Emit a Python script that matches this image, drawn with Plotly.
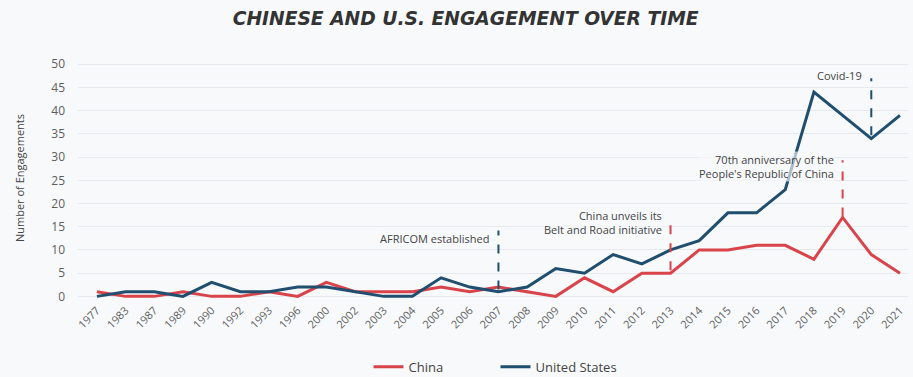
import plotly.graph_objects as go

years = ["1977", "1983", "1987", "1989", "1990", "1992", "1993", "1996", "2000", "2002",
         "2003", "2004", "2005", "2006", "2007", "2008", "2009", "2010", "2011", "2012",
         "2013", "2014", "2015", "2016", "2017", "2018", "2019", "2020", "2021"]
china = [1, 0, 0, 1, 0, 0, 1, 0, 3, 1, 1, 1, 2, 1, 2, 1, 0, 4, 1, 5, 5, 10, 10, 11, 11, 8, 17, 9, 5]
usa = [0, 1, 1, 0, 3, 1, 1, 2, 2, 1, 0, 0, 4, 2, 1, 2, 6, 5, 9, 7, 10, 12, 18, 18, 23, 44, 39, 34, 39]

events = [
    {"year": "2007", "y0": 1.5, "y1": 14.2, "label_y": 12.5, "text": "AFRICOM established", "color": "#1f4e6e"},
    {"year": "2013", "y0": 5.6, "y1": 16.8, "label_y": 16.0, "text": "China unveils its<br>Belt and Road initiative", "color": "#d9434a"},
    {"year": "2019", "y0": 17.2, "y1": 29.3, "label_y": 28.0, "text": "70th anniversary of the<br>People's Republic of China", "color": "#d9434a"},
    {"year": "2020", "y0": 34.7, "y1": 47.0, "label_y": 47.6, "text": "Covid-19", "color": "#1f4e6e"},
]

RED = "#d9434a"
NAVY = "#1f4e6e"
BG = "#f7f9fb"

fig = go.Figure()
fig.add_trace(go.Scatter(x=years, y=china, mode="lines", name="China",
                         line=dict(color=RED, width=3)))
fig.add_trace(go.Scatter(x=years, y=usa, mode="lines", name="United States",
                         line=dict(color=NAVY, width=3)))

shapes = []
annotations = []
for ev in events:
    xi = years.index(ev["year"])
    shapes.append(dict(type="line", xref="x", yref="y", x0=xi, x1=xi,
                       y0=ev["y0"], y1=ev["y1"],
                       line=dict(color=ev["color"], width=2, dash="dash")))
    annotations.append(dict(x=xi, y=ev["label_y"], xref="x", yref="y", text=ev["text"],
                            showarrow=False, xanchor="right", yanchor="middle", xshift=-8,
                            align="right", bgcolor="rgba(247,249,251,0.65)", borderpad=0,
                            font=dict(size=11, color="#444", family="Open Sans")))

fig.update_layout(
    width=913, height=377,
    paper_bgcolor=BG, plot_bgcolor=BG,
    margin=dict(l=78, r=5, t=55, b=76, autoexpand=False),
    shapes=shapes, annotations=annotations,
    title=dict(text="<b><i>CHINESE AND U.S. ENGAGEMENT OVER TIME</i></b>", x=0.51, xanchor="center",
               y=0.95, yanchor="middle", font=dict(size=18.7, color="#333333", family="DejaVu Sans")),
    font=dict(family="Open Sans", color="#555"),
    showlegend=True,
    legend=dict(orientation="h", x=0.35, xanchor="left", yref="container", y=0.027, yanchor="middle",
                entrywidth=82, font=dict(size=13, color="#444"), bgcolor="rgba(0,0,0,0)"),
    xaxis=dict(type="category", tickangle=-45, tickfont=dict(size=11, color="#5e5e5e"),
               range=[-0.66, 28.28], showgrid=False, zeroline=False, ticks="",
               automargin=False),
    yaxis=dict(range=[-1, 52], tickvals=list(range(0, 55, 5)), showgrid=True,
               gridcolor="#e6eaee", zeroline=False, tickfont=dict(size=12, color="#5e5e5e"),
               ticklabelstandoff=12, automargin=False,
               title=dict(text="Number of Engagements", font=dict(size=11, color="#444"), standoff=24)),
)

fig.write_html("out.html")
